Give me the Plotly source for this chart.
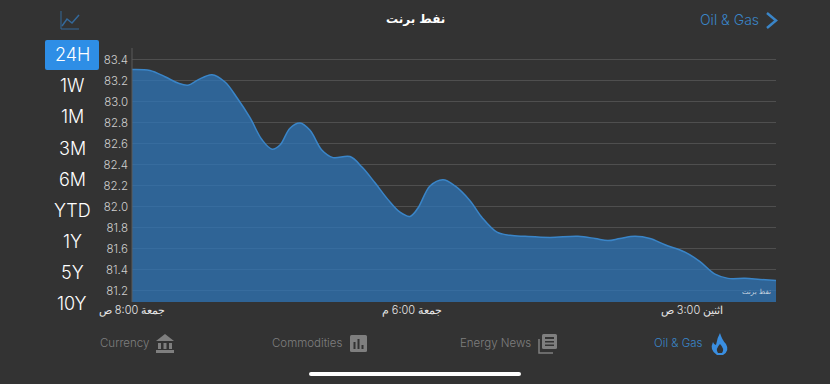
import re
import plotly.graph_objects as go

# Session position along the time axis and Brent price
session_pos = [0, 1.8, 3.3, 4.6, 5.6, 6.6, 8.0, 9.3, 10.5, 11.8, 13.0, 14.0, 14.8, 15.8, 16.8, 17.8,
               19.0, 20.1, 21.8, 23.0, 24.3, 25.6, 26.8, 27.8, 28.6, 29.8, 31.1, 32.3, 33.8, 35.0,
               36.5, 37.8, 39.3, 41.8, 44.6, 46.3, 47.6, 48.8, 50.3, 51.8, 53.3, 55.3, 56.8, 58.3,
               59.6, 61.3, 62.8, 64.4]
brent_price = [83.31, 83.30, 83.24, 83.18, 83.16, 83.21, 83.26, 83.19, 83.04, 82.85, 82.64, 82.55,
               82.59, 82.75, 82.80, 82.73, 82.54, 82.47, 82.48, 82.38, 82.23, 82.07, 81.95, 81.91,
               81.99, 82.20, 82.26, 82.20, 82.06, 81.90, 81.76, 81.73, 81.72, 81.71, 81.72, 81.70,
               81.68, 81.70, 81.72, 81.70, 81.64, 81.57, 81.48, 81.36, 81.32, 81.32, 81.31, 81.30]
y_ticks = [81.2, 81.4, 81.6, 81.8, 82.0, 82.2, 82.4, 82.6, 82.8, 83.0, 83.2, 83.4]
x_tick_pos = [0, 28, 56]
x_tick_labels = ["جمعة 8:00 ص", "جمعة 6:00 م", "اثنين 3:00 ص"]
ranges = ["24H", "1W", "1M", "3M", "6M", "YTD", "1Y", "5Y", "10Y"]
title_text = "نفط برنت"

BG = "#333333"
BLUE = "#3a85c8"
GREY = "#7f7f7f"
SANS = "Inter, Roboto, 'Liberation Sans', sans-serif"
ARABIC = "'DejaVu Sans', sans-serif"
L, R, T, B = 132, 776, 48, 302


def px(x):
    return (x - L) / (R - L)


def py(y):
    return (B - y) / (B - T)


def path(d):
    """Convert an icon path written in page pixels to paper coordinates."""
    toks = re.findall(r"[MLQCZ]|-?\d+\.?\d*", d)
    out, i = [], 0
    while i < len(toks):
        if toks[i].isalpha():
            out.append(toks[i])
            i += 1
        else:
            out.append(f"{px(float(toks[i])):.5f},{py(float(toks[i + 1])):.5f}")
            i += 2
    return " ".join(out)


def icon(d, fill=None, line=None, width=0):
    return dict(type="path", xref="paper", yref="paper", path=path(d),
                fillcolor=fill or "rgba(0,0,0,0)",
                line=dict(color=line or "rgba(0,0,0,0)", width=width))


def rect(x0, y0, x1, y1, fill):
    return icon(f"M{x0} {y0} L{x1} {y0} L{x1} {y1} L{x0} {y1} Z", fill=fill)


def rrect(x0, y0, x1, y1, r, fill):
    return icon(f"M{x0 + r} {y0} L{x1 - r} {y0} Q{x1} {y0} {x1} {y0 + r} L{x1} {y1 - r} Q{x1} {y1} {x1 - r} {y1} "
                f"L{x0 + r} {y1} Q{x0} {y1} {x0} {y1 - r} L{x0} {y0 + r} Q{x0} {y0} {x0 + r} {y0} Z", fill=fill)


def text(x, y, s, size, color, anchor="center", family=SANS, weight=None):
    font = dict(size=size, color=color, family=family)
    if weight:
        font["weight"] = weight
    return dict(xref="paper", yref="paper", x=px(x), y=py(y), text=s, showarrow=False,
                xanchor=anchor, yanchor="middle", font=font)


shapes = [
    # selected range button and axis line
    rrect(45, 40, 99, 70, 2, "#2e8ee6"),
    dict(type="line", xref="paper", yref="paper", x0=0, x1=0, y0=0, y1=1, line=dict(color="#5a5a5a", width=1)),
    # line-chart icon
    icon("M61 11 L61 29 L79 29", line="#34699b", width=1),
    icon("M62 26 L67 19 L72 23 L79 15", line="#34699b", width=1.5),
    # chevron
    icon("M767 13 L776 20.5 L767 28", line=BLUE, width=2.5),
    # bank icon
    icon("M156 341 L165 334 L174 341 Z", fill=GREY),
    rect(158, 343, 161, 349, GREY), rect(163.5, 343, 166.5, 349, GREY), rect(169, 343, 172, 349, GREY),
    rect(156, 350, 174, 353, GREY),
    # bar-chart icon
    rrect(350, 335, 367, 352, 1.5, GREY),
    rect(353.5, 342, 355.5, 349, BG), rect(357.5, 339, 359.5, 349, BG), rect(361.5, 345, 363.5, 349, BG),
    # news icon
    icon("M539 339 L539 353 L553 353", line=GREY, width=1.5),
    rrect(542, 334, 557, 349, 1.5, GREY),
    rect(545, 337, 554, 339, BG), rect(545, 341, 554, 342.5, BG), rect(545, 344.5, 554, 346, BG),
    # flame icon
    icon("M720 333 Q722 340 726 344 Q730 351 723 355 L717 355 Q709 350 713 342 Q714 345 716 345 Q717 338 720 333 Z",
         fill="#3a8ee0"),
    icon("M720 344 Q725 349 722 353 L718 353 Q715 349 720 344 Z", fill=BG),
    # home indicator
    rrect(309, 372, 521, 376, 2, "#ffffff"),
]

annotations = [
    text(415, 19, f"<b>{title_text}</b>", 12, "#ffffff", family=ARABIC),
    text(761, 20, "Oil & Gas", 14, BLUE, anchor="right", weight=300),
    text(773, 292, title_text, 7, "#c8d4e0", anchor="right", family=ARABIC),
    text(151, 343, "Currency", 11.5, GREY, anchor="right", weight=300),
    text(344, 343, "Commodities", 11.5, GREY, anchor="right", weight=300),
    text(533, 343, "Energy News", 11.5, GREY, anchor="right", weight=300),
    text(705, 343, "Oil & Gas", 11.5, BLUE, anchor="right", weight=300),
]
for i, r in enumerate(ranges):
    annotations.append(text(72, 55 + 31 * i, r, 18, "#ffffff", weight=300))

fig = go.Figure(go.Scatter(
    x=session_pos, y=brent_price, mode="lines",
    line=dict(color=BLUE, width=1.5, shape="spline", smoothing=1.0),
    fill="tozeroy", fillcolor="rgba(45,121,192,0.7)", hoverinfo="skip",
))
fig.update_layout(
    width=830, height=384, autosize=False,
    margin=dict(l=L, r=830 - R, t=T, b=384 - B),
    paper_bgcolor=BG, plot_bgcolor=BG, showlegend=False,
    shapes=shapes, annotations=annotations,
    xaxis=dict(range=[0, 64.4], tickmode="array", tickvals=x_tick_pos, ticktext=x_tick_labels,
               showgrid=False, zeroline=False, showline=False, ticks="",
               tickfont=dict(size=11, color="#e6e6e6", family="Inter, 'DejaVu Sans', sans-serif", weight=300)),
    yaxis=dict(range=[81.095, 83.514], tickmode="array", tickvals=y_ticks,
               ticktext=[f"{v:.1f}" for v in y_ticks],
               showgrid=True, gridcolor="#4f4f4f", gridwidth=1, zeroline=False, showline=False,
               ticks="", ticklabelstandoff=3,
               tickfont=dict(size=11.5, color="#d0d0d0", family=SANS, weight=300)),
)
fig.write_html(
    "out.html",
    config=dict(displayModeBar=False),
    post_script="document.body.style.margin='0';document.body.style.background='#333333';"
                "document.documentElement.style.overflow='hidden';",
)
